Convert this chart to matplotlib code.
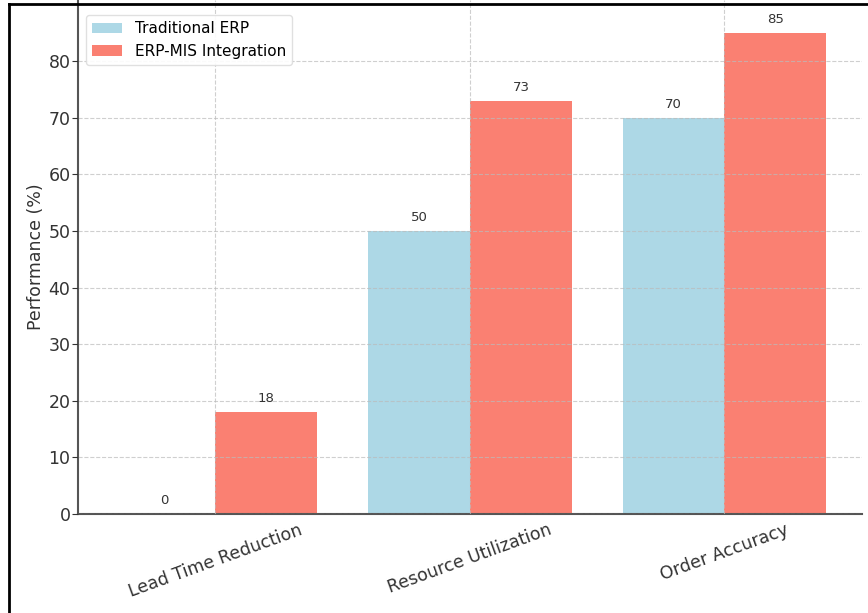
import matplotlib
matplotlib.use('Agg')
import matplotlib.pyplot as plt
import numpy as np

metrics = ["Lead Time Reduction", "Resource Utilization", "Order Accuracy"]
traditional = [0, 50, 70]
integrated = [18, 73, 85]
series_names = ["Traditional ERP", "ERP-MIS Integration"]

fig = plt.figure(figsize=(8.68, 6.13), dpi=100)
ax = fig.add_axes([0.0899, 0.1615, 0.9031, 0.8385])

x = np.arange(len(metrics))
w = 0.4
b1 = ax.bar(x - w / 2, traditional, w, color='lightblue', label=series_names[0])
b2 = ax.bar(x + w / 2, integrated, w, color='salmon', label=series_names[1])

for bars in (b1, b2):
    for rect in bars:
        h = rect.get_height()
        ax.annotate("%d" % h, (rect.get_x() + rect.get_width() / 2, h),
                    xytext=(0, 5), textcoords='offset points',
                    ha='center', va='bottom', fontsize=9.5, color='#333333')

ax.set_xticks(x)
ax.set_xticklabels(metrics, rotation=20, ha='center', fontsize=12.5, color='#333333')
ax.set_xlim(-0.54, 2.54)
ax.set_ylim(0, 90.8)
ax.set_yticks(range(0, 90, 10))
ax.tick_params(axis='y', labelsize=12.5, colors='#333333', length=4, pad=1.5)
ax.tick_params(axis='x', length=0, pad=5)
ax.set_ylabel("Performance (%)", fontsize=12.5, color='#333333', labelpad=2)

ax.grid(True, linestyle='--', color='#bbbbbb', lw=0.8, alpha=0.7)
ax.set_axisbelow(False)
for s in ('top', 'right'):
    ax.spines[s].set_visible(False)
for s in ('left', 'bottom'):
    ax.spines[s].set_color('#555555')
    ax.spines[s].set_linewidth(1.5)

ax.legend(loc='upper left', fontsize=11, framealpha=0.9, edgecolor='#dddddd',
          bbox_to_anchor=(0.0, 0.985))

# frame along the left and top edges
fig.add_artist(plt.Line2D([8.5 / 868, 8.5 / 868], [0, 1 - 4 / 613], color='black', lw=2,
                          transform=fig.transFigure))
fig.add_artist(plt.Line2D([8.5 / 868, 1], [1 - 4 / 613, 1 - 4 / 613], color='black', lw=2,
                          transform=fig.transFigure))

fig.savefig("out.png", dpi=100)
